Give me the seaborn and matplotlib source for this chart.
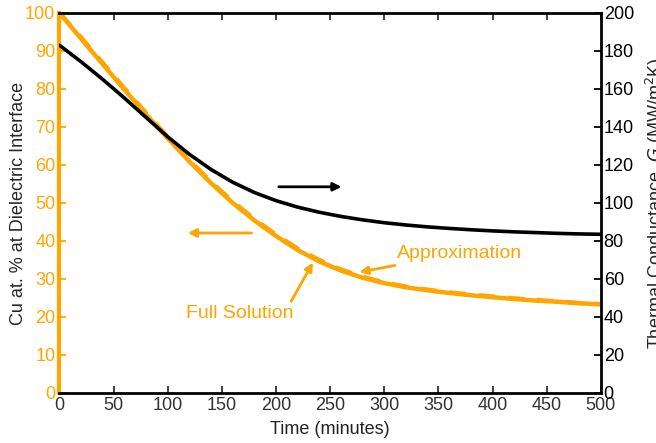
import numpy as np
import pandas as pd
import matplotlib
matplotlib.use("Agg")
import matplotlib.pyplot as plt
import seaborn as sns

# --- data ---
time_min = [0, 20, 40, 60, 80, 100, 120, 140, 160, 180, 200, 220, 240, 260,
            280, 300, 320, 340, 360, 380, 400, 420, 440, 460, 480, 500]
cu_full = [100, 93.2, 86.5, 79.8, 73.3, 67.0, 60.9, 55.2, 50.0, 45.4, 41.3,
           37.6, 34.6, 32.2, 30.3, 28.9, 27.8, 27.0, 26.3, 25.7, 25.2, 24.7,
           24.3, 24.0, 23.6, 23.3]
cu_approx = [100, 93.6, 86.9, 80.2, 73.7, 67.4, 61.3, 55.6, 50.4, 45.8, 41.7,
             38.0, 35.0, 32.5, 30.6, 29.1, 28.0, 27.2, 26.5, 25.9, 25.4, 24.9,
             24.5, 24.1, 23.7, 23.4]
g_cond = [183, 174.3, 165.0, 155.2, 145.0, 134.8, 125.6, 117.6, 110.9, 105.5,
          101.2, 97.8, 95.1, 92.9, 91.1, 89.6, 88.4, 87.4, 86.6, 85.9, 85.3,
          84.8, 84.4, 84.0, 83.7, 83.5]

orange = "#FFA500"

df = pd.DataFrame({"t": time_min, "full": cu_full, "approx": cu_approx, "G": g_cond})

sns.set_style("ticks")
plt.rcParams["font.family"] = ["Liberation Sans", "DejaVu Sans"]

fig = plt.figure(figsize=(6.56, 4.43), dpi=100)
ax = fig.add_axes([0.0907, 0.113, 0.8253, 0.8577])
ax2 = ax.twinx()

sns.lineplot(data=df, x="t", y="full", ax=ax, color=orange, lw=3.2)
sns.lineplot(data=df, x="t", y="approx", ax=ax, color=orange, lw=3.0,
             linestyle=(0, (4, 3)))
sns.lineplot(data=df, x="t", y="G", ax=ax2, color="black", lw=2.6)

ax.set_xlim(0, 500)
ax.set_ylim(0, 100)
ax2.set_ylim(0, 200)
ax.set_xticks(np.arange(0, 501, 50))
ax.set_yticks(np.arange(0, 101, 10))
ax2.set_yticks(np.arange(0, 201, 20))

ax.set_xlabel("Time (minutes)", fontsize=13, labelpad=5, color="#222222")
ax.set_ylabel("Cu at. % at Dielectric Interface", fontsize=13, labelpad=-1.5)
ax2.set_ylabel("Thermal Conductance  $G$ (MW/m$^2$K)", fontsize=13, labelpad=7)

ax.tick_params(axis="x", direction="in", top=True, length=5, width=1.3,
               labelsize=13, colors="#333333", pad=3)
ax.tick_params(axis="y", direction="in", length=5, width=1.3, labelsize=13,
               colors=orange, pad=3)
ax2.tick_params(axis="y", direction="in", length=5, width=1.3, labelsize=13,
                colors="black", pad=2)

for s in ["top", "bottom", "right"]:
    ax.spines[s].set_visible(False)
for s in ["top", "bottom", "right"]:
    ax2.spines[s].set_color("black")
    ax2.spines[s].set_linewidth(2)
ax2.spines["left"].set_visible(False)
ax.spines["left"].set_color(orange)
ax.spines["left"].set_linewidth(3)

# arrows pointing to the axis each curve belongs to
ax2.annotate("", xy=(263, 108.5), xytext=(200, 108.5),
             arrowprops=dict(arrowstyle="-|>", color="black", lw=2,
                             mutation_scale=12))
ax.annotate("", xy=(116, 42.1), xytext=(180, 42.1),
             arrowprops=dict(arrowstyle="-|>", color=orange, lw=2,
                             mutation_scale=12))

ax.annotate("Approximation", xy=(277, 31.8), xytext=(312, 36.8),
            color=orange, fontsize=14, va="center", ha="left",
            arrowprops=dict(arrowstyle="-|>", color=orange, lw=2,
                            mutation_scale=12, shrinkA=2, shrinkB=0))
ax.annotate("Full Solution", xy=(234, 34.3), xytext=(117, 21),
            color=orange, fontsize=14, va="center", ha="left",
            arrowprops=dict(arrowstyle="-|>", color=orange, lw=2,
                            mutation_scale=12, shrinkA=0, shrinkB=0,
                            relpos=(0.95, 0.9)))

fig.savefig("out.png", dpi=100)
